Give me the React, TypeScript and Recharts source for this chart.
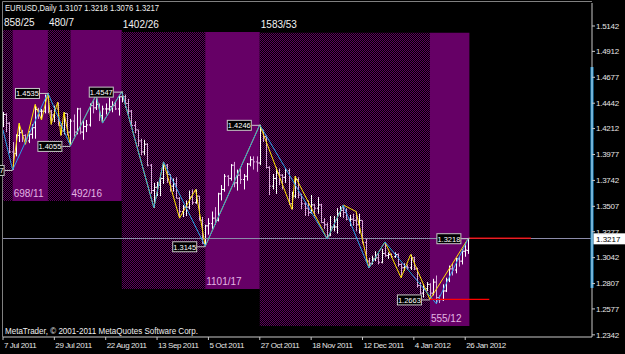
import { ComposedChart, Bar, Line, XAxis, YAxis, ReferenceArea, ReferenceLine, ReferenceDot } from "recharts";

const FONT = "Liberation Sans, Arial, sans-serif";

const tickDays = [0, 16, 32, 48, 64, 80, 96, 112, 128, 144];
const tickLabels = ["7 Jul 2011", "29 Jul 2011", "22 Aug 2011", "13 Sep 2011", "5 Oct 2011", "27 Oct 2011", "18 Nov 2011", "12 Dec 2011", "4 Jan 2012", "26 Jan 2012"];
const priceTicks = [1.5142, 1.4912, 1.4677, 1.4442, 1.4212, 1.3977, 1.3742, 1.3507, 1.3277, 1.3042, 1.2807, 1.2577, 1.2342];

// daily EURUSD bars, 7 Jul 2011 .. 27 Jan 2012
const opens = [
  1.4300, 1.4340, 1.4260, 1.4000, 1.3985, 1.4150, 1.4175, 1.4150, 1.4100, 1.4160,
  1.4220, 1.4385, 1.4370, 1.4370, 1.4490, 1.4370, 1.4335, 1.4390, 1.4240, 1.4190,
  1.4350, 1.4180, 1.4280, 1.4180, 1.4390, 1.4180, 1.4230, 1.4245, 1.4420, 1.4400,
  1.4430, 1.4330, 1.4390, 1.4390, 1.4410, 1.4420, 1.4390, 1.4500, 1.4500, 1.4440,
  1.4370, 1.4240, 1.4200, 1.4100, 1.4000, 1.4070, 1.3880, 1.3650, 1.3680, 1.3700,
  1.3760, 1.3880, 1.3795, 1.3690, 1.3710, 1.3580, 1.3460, 1.3500, 1.3500, 1.3590,
  1.3540, 1.3600, 1.3380, 1.3170, 1.3330, 1.3350, 1.3400, 1.3380, 1.3620, 1.3660,
  1.3780, 1.3760, 1.3880, 1.3720, 1.3790, 1.3750, 1.3780, 1.3890, 1.3930, 1.3910,
  1.3900, 1.4200, 1.4140, 1.3860, 1.3690, 1.3760, 1.3810, 1.3790, 1.3770, 1.3830,
  1.3530, 1.3600, 1.3750, 1.3610, 1.3530, 1.3490, 1.3450, 1.3520, 1.3490, 1.3520,
  1.3360, 1.3340, 1.3240, 1.3320, 1.3320, 1.3440, 1.3470, 1.3450, 1.3390, 1.3390,
  1.3380, 1.3340, 1.3380, 1.3180, 1.3010, 1.2990, 1.3030, 1.3040, 1.3000, 1.3080,
  1.3060, 1.3070, 1.3050, 1.3070, 1.2980, 1.2950, 1.2960, 1.2950, 1.3040, 1.2940,
  1.2790, 1.2720, 1.2760, 1.2800, 1.2720, 1.2820, 1.2680, 1.2660, 1.2740, 1.2840,
  1.2940, 1.2930, 1.3030, 1.3010, 1.3100, 1.3107,
];
const highs = [
  1.4362, 1.4350, 1.4270, 1.4090, 1.4160, 1.4260, 1.4200, 1.4160, 1.4190, 1.4250,
  1.4430, 1.4400, 1.4390, 1.4520, 1.4535, 1.4380, 1.4420, 1.4450, 1.4260, 1.4360,
  1.4350, 1.4300, 1.4340, 1.4400, 1.4400, 1.4290, 1.4290, 1.4440, 1.4470, 1.4516,
  1.4440, 1.4420, 1.4440, 1.4490, 1.4460, 1.4460, 1.4510, 1.4547, 1.4520, 1.4480,
  1.4380, 1.4280, 1.4200, 1.4120, 1.4110, 1.4080, 1.3890, 1.3720, 1.3730, 1.3800,
  1.3910, 1.3890, 1.3800, 1.3760, 1.3770, 1.3590, 1.3520, 1.3560, 1.3650, 1.3660,
  1.3660, 1.3600, 1.3410, 1.3340, 1.3400, 1.3460, 1.3500, 1.3630, 1.3700, 1.3800,
  1.3790, 1.3890, 1.3910, 1.3840, 1.3850, 1.3800, 1.3900, 1.3960, 1.3960, 1.3960,
  1.4246, 1.4200, 1.4150, 1.3870, 1.3800, 1.3860, 1.3850, 1.3800, 1.3850, 1.3850,
  1.3640, 1.3780, 1.3770, 1.3620, 1.3550, 1.3560, 1.3610, 1.3530, 1.3590, 1.3530,
  1.3400, 1.3360, 1.3420, 1.3420, 1.3490, 1.3510, 1.3519, 1.3490, 1.3430, 1.3440,
  1.3460, 1.3440, 1.3380, 1.3220, 1.3040, 1.3060, 1.3100, 1.3080, 1.3120, 1.3184,
  1.3090, 1.3080, 1.3090, 1.3080, 1.2990, 1.2990, 1.2980, 1.3070, 1.3050, 1.2950,
  1.2820, 1.2800, 1.2820, 1.2810, 1.2850, 1.2880, 1.2700, 1.2800, 1.2860, 1.2970,
  1.2990, 1.3040, 1.3050, 1.3120, 1.3180, 1.3218,
];
const lows = [
  1.4226, 1.4180, 1.3990, 1.3837, 1.3960, 1.4090, 1.4090, 1.4070, 1.4080, 1.4120,
  1.4120, 1.4300, 1.4290, 1.4350, 1.4350, 1.4250, 1.4270, 1.4240, 1.4150, 1.4160,
  1.4150, 1.4055, 1.4140, 1.4160, 1.4160, 1.4110, 1.4180, 1.4230, 1.4350, 1.4380,
  1.4280, 1.4262, 1.4340, 1.4360, 1.4360, 1.4380, 1.4330, 1.4450, 1.4400, 1.4340,
  1.4220, 1.4170, 1.4050, 1.3970, 1.3970, 1.3870, 1.3620, 1.3495, 1.3600, 1.3600,
  1.3710, 1.3720, 1.3640, 1.3640, 1.3580, 1.3400, 1.3410, 1.3420, 1.3480, 1.3520,
  1.3530, 1.3380, 1.3170, 1.3145, 1.3250, 1.3300, 1.3340, 1.3370, 1.3560, 1.3640,
  1.3690, 1.3740, 1.3680, 1.3650, 1.3710, 1.3660, 1.3740, 1.3870, 1.3840, 1.3820,
  1.3880, 1.4090, 1.3850, 1.3610, 1.3660, 1.3620, 1.3700, 1.3660, 1.3720, 1.3520,
  1.3480, 1.3580, 1.3580, 1.3480, 1.3420, 1.3420, 1.3440, 1.3420, 1.3440, 1.3360,
  1.3300, 1.3211, 1.3240, 1.3280, 1.3260, 1.3410, 1.3400, 1.3380, 1.3330, 1.3330,
  1.3280, 1.3260, 1.3170, 1.3010, 1.2948, 1.2980, 1.3010, 1.2980, 1.2990, 1.3050,
  1.3030, 1.3040, 1.3040, 1.2960, 1.2860, 1.2920, 1.2930, 1.2930, 1.2930, 1.2770,
  1.2710, 1.2680, 1.2740, 1.2663, 1.2700, 1.2624, 1.2630, 1.2650, 1.2730, 1.2820,
  1.2880, 1.2900, 1.2960, 1.2980, 1.3050, 1.3076,
];
const closes = [
  1.4340, 1.4260, 1.4000, 1.3985, 1.4150, 1.4175, 1.4150, 1.4100, 1.4160, 1.4220,
  1.4385, 1.4370, 1.4370, 1.4490, 1.4370, 1.4335, 1.4390, 1.4240, 1.4190, 1.4350,
  1.4180, 1.4280, 1.4180, 1.4390, 1.4180, 1.4230, 1.4245, 1.4420, 1.4400, 1.4430,
  1.4330, 1.4390, 1.4390, 1.4410, 1.4420, 1.4390, 1.4500, 1.4500, 1.4440, 1.4370,
  1.4240, 1.4200, 1.4100, 1.4000, 1.4070, 1.3880, 1.3650, 1.3680, 1.3700, 1.3760,
  1.3880, 1.3795, 1.3690, 1.3710, 1.3580, 1.3460, 1.3500, 1.3500, 1.3590, 1.3540,
  1.3600, 1.3380, 1.3170, 1.3330, 1.3350, 1.3400, 1.3380, 1.3620, 1.3660, 1.3780,
  1.3760, 1.3880, 1.3720, 1.3790, 1.3750, 1.3780, 1.3890, 1.3930, 1.3910, 1.3900,
  1.4200, 1.4140, 1.3860, 1.3690, 1.3760, 1.3810, 1.3790, 1.3770, 1.3830, 1.3530,
  1.3600, 1.3750, 1.3610, 1.3530, 1.3490, 1.3450, 1.3520, 1.3490, 1.3520, 1.3360,
  1.3340, 1.3240, 1.3320, 1.3320, 1.3440, 1.3470, 1.3450, 1.3390, 1.3390, 1.3380,
  1.3340, 1.3380, 1.3180, 1.3010, 1.2990, 1.3030, 1.3040, 1.3000, 1.3080, 1.3060,
  1.3070, 1.3050, 1.3070, 1.2980, 1.2950, 1.2960, 1.2950, 1.3040, 1.2940, 1.2790,
  1.2720, 1.2760, 1.2800, 1.2720, 1.2820, 1.2680, 1.2660, 1.2740, 1.2840, 1.2940,
  1.2930, 1.3030, 1.3010, 1.3100, 1.3110, 1.3217,
];

// zigzag turning points (bar index / price)
const blueIdx = [0, 3, 14, 21, 29, 31, 37, 47, 50, 63, 80, 101, 106, 114, 119, 135, 145];
const bluePrice = [1.4199, 1.3837, 1.4535, 1.4055, 1.4516, 1.4262, 1.4547, 1.3495, 1.3910, 1.3145, 1.4246, 1.3211, 1.3519, 1.2948, 1.3184, 1.2624, 1.3218];
const yellowIdx = [3, 5, 7, 10, 12, 14, 15, 17, 18, 19, 21, 29, 31, 37, 47, 50, 55, 60, 63, 80, 90, 91, 101, 106, 110, 114, 119, 124, 127, 133, 145];
const yellowPrice = [1.3837, 1.4260, 1.4070, 1.4430, 1.4290, 1.4535, 1.4250, 1.4450, 1.4150, 1.4360, 1.4055, 1.4516, 1.4262, 1.4547, 1.3495, 1.3910, 1.3400, 1.3660, 1.3145, 1.4246, 1.3480, 1.3780, 1.3211, 1.3519, 1.3460, 1.2948, 1.3184, 1.2860, 1.3070, 1.2663, 1.3218];

// swing boxes
const swingStart = [0, 3, 14, 21, 37, 63, 80, 133];
const swingEnd = [3, 14, 21, 37, 63, 80, 133, 145.3];
const swingTop = [1.5105, 1.5105, 1.5105, 1.5105, 1.5087, 1.5087, 1.5080, 1.5080];
const swingBottom = [1.3555, 1.3555, 1.3555, 1.3555, 1.2758, 1.2758, 1.2422, 1.2422];
const swingTopText = ["858/25", "", "480/7", "", "1402/26", "", "1583/53", ""];
const swingBottomText = ["", "698/11", "", "492/16", "", "1101/17", "", "555/12"];

const tagIdx = [3, 14, 21, 37, 63, 80, 133, 145.3];
const tagPrice = [1.3837, 1.4535, 1.4055, 1.4547, 1.3145, 1.4246, 1.2663, 1.3218];

// red level segments
const levelFrom = [133, 145.3];
const levelTo = [151.5, 164.5];
const levelPrice = [1.2663, 1.3218];

const lastPrice = 1.3217;

const bars = opens.map((o, i) => ({ i, o, h: highs[i], l: lows[i], c: closes[i], range: [lows[i], highs[i]] }));
const blueData = blueIdx.map((i, k) => ({ i, p: bluePrice[k] }));
const yellowData = yellowIdx.map((i, k) => ({ i, p: yellowPrice[k] }));

function OhlcShape(props: any) {
  const { x, y, width, height, payload } = props;
  if (!payload || !isFinite(y) || !isFinite(height)) return null;
  const top = Math.min(y, y + height);
  const bottom = Math.max(y, y + height);
  const span = payload.h - payload.l;
  const toY = (p: number) => (span === 0 ? top : top + ((payload.h - p) / span) * (bottom - top));
  const cx = Math.round(x + width / 2) + 0.5;
  const color = payload.c >= payload.o ? "#ffffff" : "#d9a9d9";
  return (
    <g>
      <line x1={cx} x2={cx} y1={top} y2={bottom} stroke={color} />
      <line x1={cx - 1.5} x2={cx} y1={toY(payload.o)} y2={toY(payload.o)} stroke={color} />
      <line x1={cx} x2={cx + 1.5} y1={toY(payload.c)} y2={toY(payload.c)} stroke={color} />
    </g>
  );
}

function XTick(props: any) {
  const { x, y, payload } = props;
  const k = tickDays.indexOf(payload.value);
  return (
    <text x={x + 1} y={y + 8} fill="#e6e6e6" fontSize={8} fontFamily={FONT} letterSpacing={-0.4}>
      {k >= 0 ? tickLabels[k] : ""}
    </text>
  );
}

function PriceTag(text: string) {
  return (props: any) => {
    const { cx, cy } = props;
    return (
      <g>
        <line x1={cx - 8} x2={cx} y1={cy + 0.5} y2={cy + 0.5} stroke="#c8c8c8" />
        <rect x={cx - 32.5} y={cy - 4.5} width={24} height={10} fill="#000" stroke="#c8c8c8" />
        <text x={cx - 20.5} y={cy + 3.5} fill="#ffffff" fontSize={7.5} fontFamily={FONT} textAnchor="middle">{text}</text>
      </g>
    );
  };
}

function BoxText(text: string, color: string, dy: number) {
  return (props: any) => (
    <text x={props.cx + 1} y={props.cy + dy} fill={color} fontSize={10} fontFamily={FONT}>{text}</text>
  );
}

function LastTag(props: any) {
  const { cx, cy } = props;
  return (
    <g>
      <rect x={cx + 1.5} y={cy - 5} width={32} height={11} fill="#ffffff" />
      <text x={cx + 4} y={cy + 3.5} fill="#000" fontSize={8} fontFamily={FONT}>{lastPrice.toFixed(4)}</text>
    </g>
  );
}

export default function App() {
  return (
    <div style={{ position: "fixed", left: 0, top: 0, width: 625, height: 354, background: "#000" }}>
      <ComposedChart width={625} height={354} data={bars} margin={{ top: 3, right: 0, bottom: 0, left: 3 }}>
        <defs>
          <pattern id="dither" width={2} height={2} patternUnits="userSpaceOnUse">
            <rect x={0} y={0} width={2} height={2} fill="#000" />
            <rect x={0} y={0} width={1} height={1} fill="#5e005e" />
            <rect x={1} y={1} width={1} height={1} fill="#5e005e" />
          </pattern>
        </defs>
        <XAxis
          dataKey="i"
          type="number"
          domain={[0, 183.5]}
          ticks={tickDays}
          interval={0}
          tick={XTick}
          tickSize={3}
          tickMargin={0}
          height={17}
          axisLine={{ stroke: "#c8c8c8" }}
          tickLine={{ stroke: "#c8c8c8" }}
          allowDataOverflow
        />
        <YAxis
          orientation="right"
          type="number"
          domain={[1.23224, 1.53505]}
          ticks={priceTicks}
          interval={0}
          width={33}
          tickSize={3}
          tickMargin={1}
          tickFormatter={(v: number) => v.toFixed(4)}
          tick={{ fill: "#e6e6e6", fontSize: 8, fontFamily: FONT, letterSpacing: -0.25 }}
          axisLine={{ stroke: "#c8c8c8" }}
          tickLine={{ stroke: "#c8c8c8" }}
          allowDataOverflow
        />
        {swingStart.map((s, k) => (
          <ReferenceArea
            key={`area-${k}`}
            x1={s}
            x2={swingEnd[k]}
            y1={swingBottom[k]}
            y2={swingTop[k]}
            fill={k % 2 === 1 ? "#660066" : "url(#dither)"}
            fillOpacity={1}
            stroke="none"
          />
        ))}
        <ReferenceLine y={lastPrice} stroke="#8c8caa" shapeRendering="crispEdges" />
        <Bar dataKey="range" shape={OhlcShape} barSize={3} isAnimationActive={false} />
        <Line data={yellowData} dataKey="p" stroke="#ffe000" strokeWidth={1} dot={false} isAnimationActive={false} />
        <Line data={blueData} dataKey="p" stroke="#2a9ee8" strokeWidth={1} dot={false} isAnimationActive={false} />
        {levelPrice.map((p, k) => (
          <Line
            key={`lvl-${k}`}
            data={[{ i: levelFrom[k], p }, { i: levelTo[k], p }]}
            dataKey="p"
            stroke="#ff0000"
            strokeWidth={1.2}
            dot={false}
            isAnimationActive={false}
          />
        ))}
        <ReferenceLine segment={[{ x: 183.5, y: 1.4770 }, { x: 183.5, y: 1.2767 }]} stroke="#1ea0ea" strokeWidth={3} ifOverflow="visible" />
        {swingStart.map((s, k) =>
          swingTopText[k] ? (
            <ReferenceDot key={`tt-${k}`} x={s} y={swingTop[k]} r={0} ifOverflow="visible" shape={BoxText(swingTopText[k], "#f2f2f2", -4.5)} />
          ) : null
        )}
        {swingStart.map((s, k) =>
          swingBottomText[k] ? (
            <ReferenceDot key={`bt-${k}`} x={s} y={swingBottom[k]} r={0} ifOverflow="visible" shape={BoxText(swingBottomText[k], "#e2b4e2", -4)} />
          ) : null
        )}
        {tagIdx.map((t, k) => (
          <ReferenceDot key={`tag-${k}`} x={t} y={tagPrice[k]} r={0} ifOverflow="visible" shape={PriceTag(tagPrice[k].toFixed(4))} />
        ))}
        <ReferenceDot x={183.5} y={lastPrice} r={0} ifOverflow="visible" shape={LastTag} />
        <line x1={2.5} x2={592} y1={1.5} y2={1.5} stroke="#808080" />
        <line x1={2.5} x2={2.5} y1={1.5} y2={337} stroke="#808080" />
        <text x={5} y={11} fill="#f0f0f0" fontSize={8.5} fontFamily={FONT} textLength={154} lengthAdjust="spacingAndGlyphs">
          EURUSD,Daily  1.3107 1.3218 1.3076 1.3217
        </text>
        <text x={5} y={334} fill="#f0f0f0" fontSize={8.5} fontFamily={FONT} textLength={193} lengthAdjust="spacingAndGlyphs">
          MetaTrader, © 2001-2011 MetaQuotes Software Corp.
        </text>
      </ComposedChart>
    </div>
  );
}
